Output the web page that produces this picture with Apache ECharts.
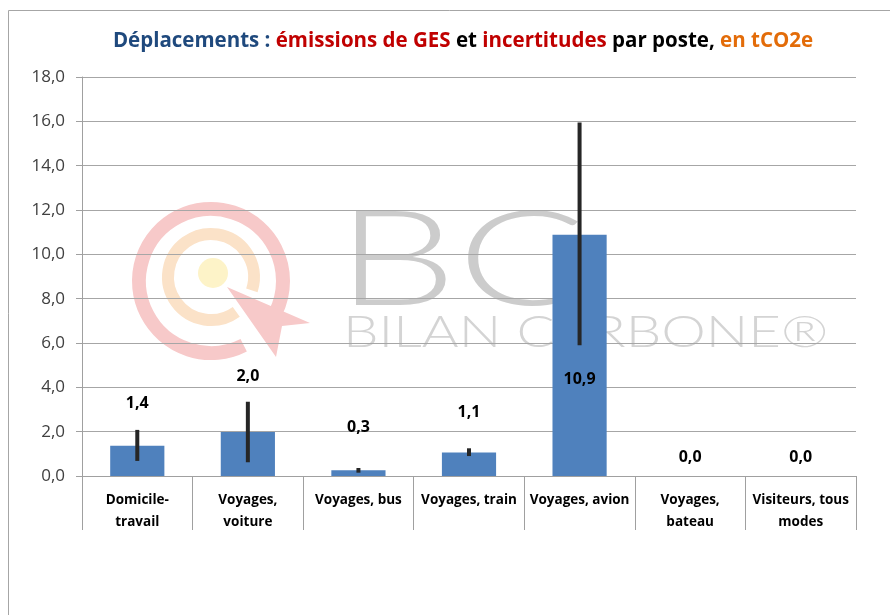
<!DOCTYPE html>
<html>
<head>
<meta charset="utf-8">
<script src="https://cdn.jsdelivr.net/npm/echarts@6/dist/echarts.min.js"></script>
<style>
  html, body { margin: 0; padding: 0; background: #fff; }
  #chart { width: 890px; height: 615px; }
</style>
</head>
<body>
<div id="chart"></div>
<script>
const categories = ['Domicile-\ntravail', 'Voyages,\nvoiture', 'Voyages, bus', 'Voyages, train', 'Voyages, avion', 'Voyages,\nbateau', 'Visiteurs, tous\nmodes']
const emissions = [1.36, 1.98, 0.26, 1.06, 10.88, 0, 0]
const errLow = [0.68, 0.62, 0.15, 0.9, 5.9, 0, 0]
const errHigh = [2.08, 3.35, 0.36, 1.25, 15.95, 0, 0]
const yTicks = { min: 0, max: 18, interval: 2 }

// label placement, tuned by eye (px above the bar top)
const labelDistance = [34, 48, 35, 32, null, 11, 11]

const fmt = v => v.toFixed(1).replace('.', ',')
const font = '"Open Sans", "Liberation Sans", sans-serif'

const chart = echarts.init(document.getElementById('chart'))

const barData = emissions.map((v, i) => {
  if (labelDistance[i] === null) {
    return { value: v, label: { position: 'inside', offset: [0, 24] } }
  }
  return { value: v, label: { position: 'top', distance: labelDistance[i] } }
})

const titleStyle = color => ({ color, fontSize: 20.5, fontWeight: 'bold', fontFamily: font })

chart.setOption({
  animation: false,
  title: {
    left: 458,
    top: 26,
    textAlign: 'center',
    text: '{b|Déplacements : }{r|émissions de GES}{k| et }{r|incertitudes}{k| par poste, }{o|en tCO2e}',
    textStyle: {
      rich: {
        b: titleStyle('#1F497D'),
        r: titleStyle('#C00000'),
        k: titleStyle('#000000'),
        o: titleStyle('#E36C09')
      }
    }
  },
  graphic: [
    { type: 'rect', z: -20, silent: true, shape: { x: 8.5, y: 10.5, width: 900, height: 700 },
      style: { fill: 'none', stroke: '#A6A6A6', lineWidth: 1 } },
    // watermark
    { type: 'arc', z: -10, silent: true, shape: { cx: 211, cy: 281, r: 72, startAngle: Math.PI * 0.35, endAngle: Math.PI * 0.15 + Math.PI * 2 },
      style: { stroke: '#F7C9C9', lineWidth: 14, fill: 'none' } },
    { type: 'arc', z: -10, silent: true, shape: { cx: 211, cy: 277, r: 43, startAngle: Math.PI * 0.3, endAngle: Math.PI * 0.1 + Math.PI * 2 },
      style: { stroke: '#FBE2C8', lineWidth: 12, fill: 'none' } },
    { type: 'circle', z: -10, silent: true, shape: { cx: 213, cy: 273, r: 15 },
      style: { fill: '#FDF3C8' } },
    { type: 'polygon', z: -10, silent: true, shape: { points: [[227, 287], [310, 323], [282, 326], [276, 357]] },
      style: { fill: '#F7C9C9' } },
    { type: 'text', z: -10, silent: true, x: 336, y: 196, scaleX: 1.45,
      style: { text: 'BC', fill: '#CCCCCC', font: '300 132px Lato, "DejaVu Sans", sans-serif' } },
    { type: 'text', z: -10, silent: true, x: 343, y: 311, scaleX: 1.28,
      style: { text: 'BILAN CARBONE®', fill: '#D4D4D4', font: '300 44px Lato, "DejaVu Sans", sans-serif' } }
  ],
  grid: { left: 82, right: 34, top: 77, bottom: 139 },
  xAxis: {
    type: 'category',
    data: categories,
    axisLine: { lineStyle: { color: '#A0A0A0' } },
    axisTick: { show: true, length: 54, lineStyle: { color: '#A0A0A0' } },
    axisLabel: {
      interval: 0, margin: 13, color: '#000', fontSize: 13.5, fontWeight: 'bold',
      fontFamily: font, lineHeight: 22
    }
  },
  yAxis: {
    type: 'value',
    min: yTicks.min, max: yTicks.max, interval: yTicks.interval,
    axisLine: { show: true, lineStyle: { color: '#A0A0A0' } },
    axisTick: { show: true, length: 6, lineStyle: { color: '#A0A0A0' } },
    splitLine: { lineStyle: { color: '#A6A6A6' } },
    axisLabel: { formatter: fmt, color: '#404040', fontSize: 17, fontFamily: font, margin: 17 }
  },
  series: [
    {
      type: 'bar',
      data: barData,
      barWidth: '49%',
      itemStyle: { color: '#4F81BD' },
      label: {
        show: true, formatter: p => fmt(p.value), color: '#000', fontSize: 16,
        fontWeight: 'bold', fontFamily: font
      }
    },
    {
      type: 'custom',
      data: errLow.map((lo, i) => [i, lo, errHigh[i]]),
      z: 5,
      renderItem: (params, api) => {
        const lo = api.value(1)
        const hi = api.value(2)
        if (lo === 0 && hi === 0) return null
        const p1 = api.coord([api.value(0), lo])
        const p2 = api.coord([api.value(0), hi])
        return {
          type: 'line',
          shape: { x1: p1[0], y1: p1[1], x2: p2[0], y2: p2[1] },
          style: { stroke: '#262626', lineWidth: 4 }
        }
      }
    }
  ]
})
</script>
</body>
</html>
